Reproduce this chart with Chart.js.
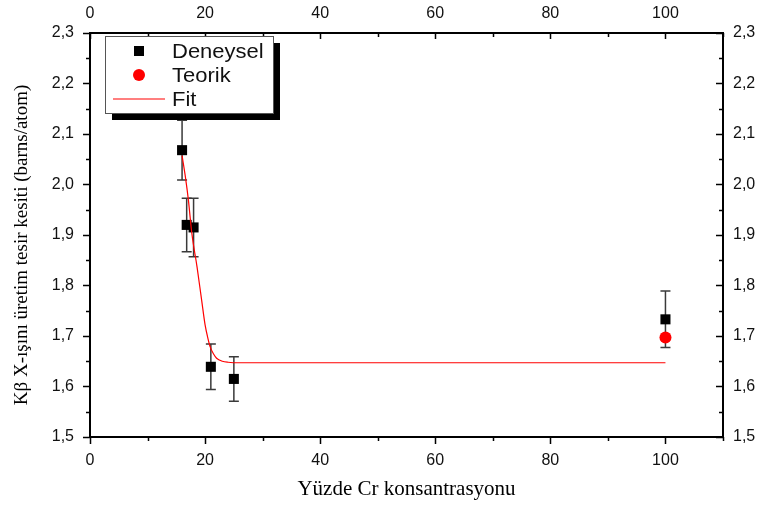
<!DOCTYPE html>
<html>
<head>
<meta charset="utf-8">
<script src="https://cdn.jsdelivr.net/npm/chart.js@4.4.1/dist/chart.umd.min.js"></script>
<style>
  body { margin: 0; background: #fff; }
  #wrap { width: 763px; height: 506px; position: relative; }
</style>
</head>
<body>
<div id="wrap"><canvas id="crChart"></canvas></div>
<script>
// Deneysel (measured) points with error bars
const deneyselX = [16, 16.8, 18, 21, 25, 100];
const deneyselY = [2.068, 1.920, 1.915, 1.639, 1.615, 1.733];
const deneyselErr = [0.059, 0.053, 0.058, 0.045, 0.044, 0.056];

// Teorik (theoretical) value
const teorikX = [100];
const teorikY = [1.697];

// Fit curve
const fitX = [16, 16.6, 17.1, 17.7, 18.6, 19.4, 20.0, 20.5, 20.9, 21.5, 22.0, 23, 24, 26, 100];
const fitY = [2.057, 2.013, 1.969, 1.903, 1.837, 1.771, 1.722, 1.695, 1.678, 1.664, 1.656, 1.650, 1.648, 1.647, 1.647];

// Axis ticks
const xTicks = [0, 20, 40, 60, 80, 100];
const xMinor = [10, 30, 50, 70, 90, 110];
const yTicks = [1.5, 1.6, 1.7, 1.8, 1.9, 2.0, 2.1, 2.2, 2.3];
const yMinor = [1.55, 1.65, 1.75, 1.85, 1.95, 2.05, 2.15, 2.25];

const legendLabels = ['Deneysel', 'Teorik', 'Fit'];
const xTitle = 'Yüzde Cr konsantrasyonu';
const yTitle = 'Kβ X-ışını üretim tesir kesiti (barns/atom)';

const toXY = (xs, ys) => xs.map((x, i) => ({ x: x, y: ys[i] }));
const comma = v => v.toFixed(1).replace('.', ',');

// error bars under the markers
const errorBars = {
    id: 'errorBars',
    beforeDatasetsDraw(chart) {
        const ctx = chart.ctx;
        const xs = chart.scales.x, ys = chart.scales.y;
        ctx.save();
        ctx.strokeStyle = '#3a3a3a';
        ctx.lineWidth = 1.5;
        deneyselX.forEach((xv, i) => {
            const px = xs.getPixelForValue(xv);
            const top = ys.getPixelForValue(deneyselY[i] + deneyselErr[i]);
            const bot = ys.getPixelForValue(deneyselY[i] - deneyselErr[i]);
            ctx.beginPath();
            ctx.moveTo(px, top); ctx.lineTo(px, bot);
            ctx.moveTo(px - 5, top); ctx.lineTo(px + 5, top);
            ctx.moveTo(px - 5, bot); ctx.lineTo(px + 5, bot);
            ctx.stroke();
        });
        ctx.restore();
    }
};

// tick marks, titles and the boxed legend
const decorations = {
    id: 'decorations',
    afterDraw(chart) {
        const ctx = chart.ctx;
        const a = chart.chartArea;
        const xs = chart.scales.x, ys = chart.scales.y;
        ctx.save();
        ctx.strokeStyle = '#000';
        ctx.lineWidth = 1.5;
        ctx.beginPath();
        xTicks.concat(xMinor).forEach(v => {
            const px = Math.round(xs.getPixelForValue(v)) + 0.5;
            const major = xTicks.includes(v);
            ctx.moveTo(px, a.bottom); ctx.lineTo(px, a.bottom + (major ? 7 : 4));
            ctx.moveTo(px, a.top); ctx.lineTo(px, a.top + (major ? 6 : 4));
        });
        yTicks.concat(yMinor).forEach(v => {
            const py = Math.round(ys.getPixelForValue(v)) + 0.5;
            const major = yTicks.some(t => Math.abs(t - v) < 1e-6);
            ctx.moveTo(a.left, py); ctx.lineTo(a.left - (major ? 7 : 4), py);
            ctx.moveTo(a.right, py); ctx.lineTo(a.right - (major ? 7 : 4), py);
        });
        ctx.stroke();

        // axis titles
        ctx.fillStyle = '#000';
        ctx.font = '21px "Liberation Serif", "Times New Roman", serif';
        ctx.textAlign = 'center';
        ctx.textBaseline = 'alphabetic';
        ctx.fillText(xTitle, (a.left + a.right) / 2, 495);
        ctx.save();
        ctx.translate(27, 245);
        ctx.rotate(-Math.PI / 2);
        ctx.font = '19px "Liberation Serif", "Times New Roman", serif';
        ctx.fillText(yTitle, 0, 0);
        ctx.restore();

        // legend box with shadow
        const lx = 105, ly = 36, lw = 168, lh = 77;
        ctx.fillStyle = '#000';
        ctx.fillRect(lx + 7, ly + 7, lw, lh);
        ctx.fillStyle = '#fff';
        ctx.fillRect(lx, ly, lw, lh);
        ctx.strokeStyle = '#555';
        ctx.lineWidth = 1;
        ctx.strokeRect(lx + 0.5, ly + 0.5, lw, lh);

        const ds = chart.data.datasets;
        const rows = [51, 75, 99];
        ctx.fillStyle = ds[1].backgroundColor;
        ctx.fillRect(134, rows[0] - 5, 10, 10);
        ctx.fillStyle = ds[2].backgroundColor;
        ctx.beginPath();
        ctx.arc(139, rows[1], 6, 0, Math.PI * 2);
        ctx.fill();
        ctx.strokeStyle = ds[0].borderColor;
        ctx.lineWidth = 1.2;
        ctx.beginPath();
        ctx.moveTo(113, rows[2]); ctx.lineTo(165, rows[2]);
        ctx.stroke();
        ctx.font = '20px "Liberation Sans", Arial, sans-serif';
        ctx.textAlign = 'left';
        ctx.textBaseline = 'middle';
        ctx.fillStyle = '#111';
        legendLabels.forEach((t, i) => {
            ctx.save();
            ctx.translate(172, rows[i] + 1);
            ctx.scale(1.1, 1);
            ctx.fillText(t, 0, 0);
            ctx.restore();
        });
        ctx.restore();
    }
};

const tickFont = { family: '"Liberation Sans", Arial, sans-serif', size: 16 };
const borderOpts = { display: true, color: '#000', width: 2 };
const noGrid = { display: false, drawTicks: false };

const ctx = document.getElementById('crChart').getContext('2d');
const crChart = new Chart(ctx, {
    type: 'scatter',
    data: {
        datasets: [
            {
                label: 'Fit',
                type: 'line',
                data: toXY(fitX, fitY),
                borderColor: '#ff0000',
                borderWidth: 1.2,
                pointRadius: 0,
                cubicInterpolationMode: 'monotone',
                fill: false,
                order: 0
            },
            {
                label: 'Deneysel',
                data: toXY(deneyselX, deneyselY),
                pointStyle: 'rect',
                pointRadius: 7.1,
                backgroundColor: '#000',
                borderColor: '#000',
                borderWidth: 0,
                order: 2
            },
            {
                label: 'Teorik',
                data: toXY(teorikX, teorikY),
                pointStyle: 'circle',
                pointRadius: 6,
                backgroundColor: '#ff0000',
                borderColor: '#ff0000',
                borderWidth: 0,
                order: 1
            }
        ]
    },
    options: {
        responsive: true,
        maintainAspectRatio: false,
        animation: false,
        layout: { padding: 0 },
        plugins: {
            legend: { display: false },
            tooltip: { enabled: false }
        },
        scales: {
            x: {
                type: 'linear', position: 'bottom', min: 0, max: 110,
                grid: noGrid, border: borderOpts,
                afterBuildTicks: s => { s.ticks = xTicks.map(v => ({ value: v })); },
                afterFit: s => { s.height = 69; },
                ticks: { font: tickFont, color: '#111', padding: 14, maxRotation: 0 }
            },
            x2: {
                type: 'linear', position: 'top', min: 0, max: 110,
                grid: noGrid, border: borderOpts,
                afterBuildTicks: s => { s.ticks = xTicks.map(v => ({ value: v })); },
                afterFit: s => { s.height = 33; },
                ticks: { font: tickFont, color: '#111', padding: 10, maxRotation: 0 }
            },
            y: {
                type: 'linear', position: 'left', min: 1.5, max: 2.3,
                grid: noGrid, border: borderOpts,
                afterBuildTicks: s => { s.ticks = yTicks.map(v => ({ value: v })); },
                afterFit: s => { s.width = 90; },
                ticks: { font: tickFont, color: '#111', padding: 16, callback: v => comma(v) }
            },
            y2: {
                type: 'linear', position: 'right', min: 1.5, max: 2.3,
                grid: noGrid, border: borderOpts,
                afterBuildTicks: s => { s.ticks = yTicks.map(v => ({ value: v })); },
                afterFit: s => { s.width = 40; },
                ticks: { font: tickFont, color: '#111', padding: 10, callback: v => comma(v) }
            }
        }
    },
    plugins: [errorBars, decorations]
});
</script>
</body>
</html>
